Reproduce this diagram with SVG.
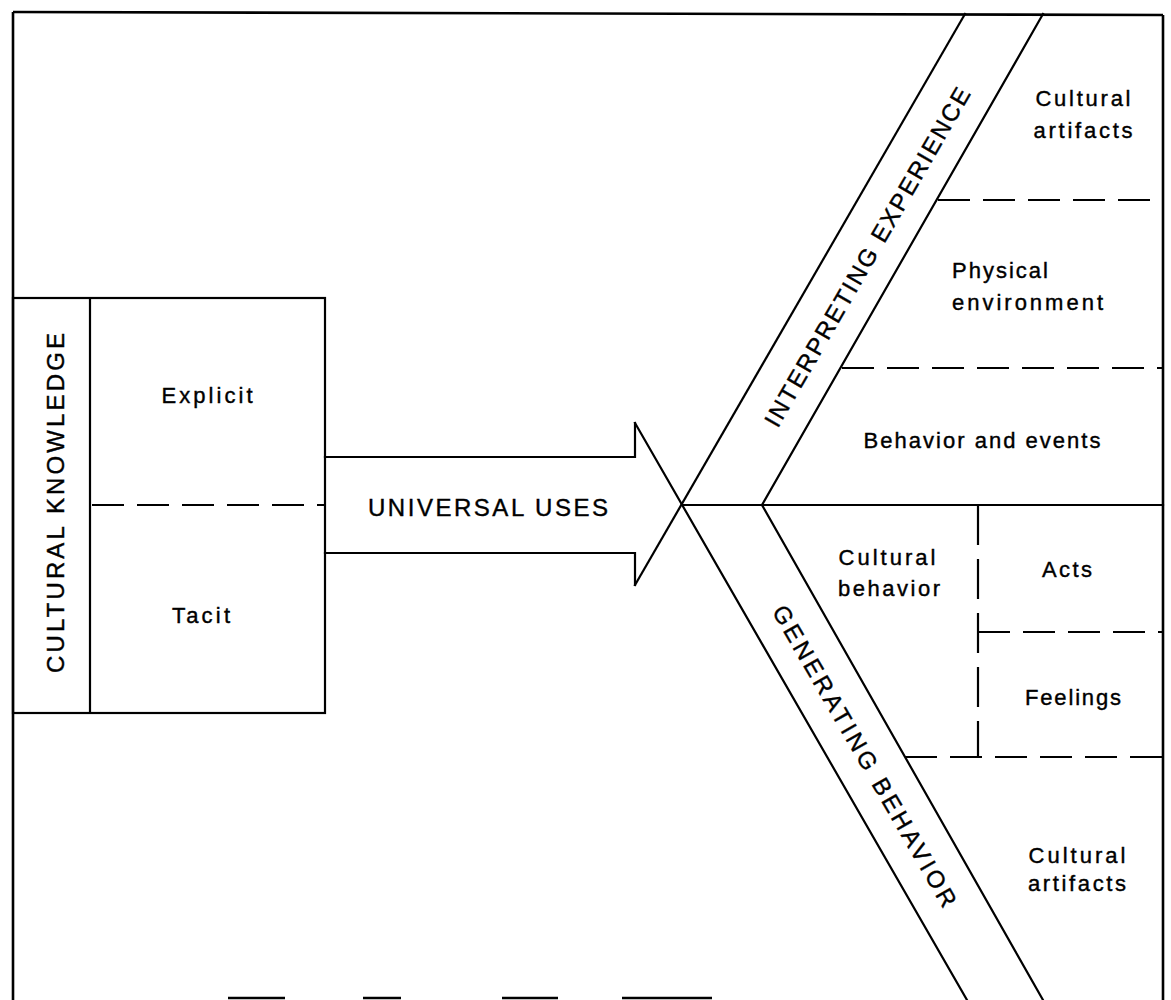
<svg xmlns="http://www.w3.org/2000/svg" width="1171" height="1000" viewBox="0 0 1171 1000">
<style>
.ln{stroke:#000;stroke-width:2.2;fill:none;stroke-linecap:square}
.fr{stroke:#000;stroke-width:2.6;fill:none}
.ds{stroke:#000;stroke-width:2.2;fill:none;stroke-dasharray:32 13}
.dv{stroke:#000;stroke-width:2.2;fill:none;stroke-dasharray:40 14}
.t{font-family:"Liberation Sans",Arial,sans-serif;font-size:22px;fill:#000;stroke:#000;stroke-width:0.4;text-anchor:middle}
.tb{font-family:"Liberation Sans",Arial,sans-serif;font-size:24px;fill:#000;stroke:#000;stroke-width:0.4;text-anchor:middle}
.ts{font-family:"Liberation Sans",Arial,sans-serif;font-size:22px;fill:#000;stroke:#000;stroke-width:0.4;text-anchor:start}
</style>
<rect x="0" y="0" width="1171" height="1000" fill="#fff"/>
<g id="frame">
<line class="fr" x1="13" y1="12" x2="1163" y2="15"/>
<line class="fr" x1="13" y1="12" x2="13" y2="1000"/>
<line class="fr" x1="1163" y1="15" x2="1163" y2="1000"/>
<line class="fr" x1="228" y1="998" x2="285" y2="998"/>
<line class="fr" x1="363" y1="998" x2="401" y2="998"/>
<line class="fr" x1="502" y1="998" x2="558" y2="998"/>
<line class="fr" x1="622" y1="998" x2="712" y2="998"/>
</g>
<g id="cultural-knowledge">
<rect class="ln" x="13" y="298" width="312" height="415"/>
<line class="ln" x1="90" y1="298" x2="90" y2="713"/>
<text class="tb" transform="translate(54,503) rotate(-90)" x="0" y="9.7" font-size="27" textLength="340" lengthAdjust="spacing">CULTURAL KNOWLEDGE</text>
</g>
<g id="explicit">
<text class="t" x="207" y="403" textLength="91" lengthAdjust="spacing">Explicit</text>
</g>
<g id="tacit">
<line class="ds" x1="92" y1="505" x2="325" y2="505"/>
<text class="t" x="201" y="623" textLength="58" lengthAdjust="spacing">Tacit</text>
</g>
<g id="connectors">
<polyline class="ln" points="325,457 635,457 635,423"/>
<polyline class="ln" points="325,553 635,553 635,585"/>
<line class="ln" x1="635" y1="423" x2="967" y2="1000"/>
<line class="ln" x1="635" y1="585" x2="965" y2="14"/>
<line class="ln" x1="682" y1="505" x2="1163" y2="505"/>
<line class="ln" x1="762" y1="505" x2="1043" y2="14"/>
<line class="ln" x1="762" y1="505" x2="1043" y2="1000"/>
</g>
<g id="universal-uses">
<text class="tb" x="488" y="515.5" textLength="240" lengthAdjust="spacing">UNIVERSAL USES</text>
</g>
<g id="interpreting-experience">
<text class="tb" transform="translate(867,257) rotate(-60)" x="0" y="8.6" textLength="387" lengthAdjust="spacing">INTERPRETING EXPERIENCE</text>
</g>
<g id="generating-behavior">
<text class="tb" transform="translate(865,756) rotate(60)" x="0" y="8.6" textLength="344" lengthAdjust="spacing">GENERATING BEHAVIOR</text>
</g>
<g id="cultural-artifacts-top">
<text class="t" x="1083" y="106" textLength="95" lengthAdjust="spacing">Cultural</text>
<text class="t" x="1083" y="138" textLength="99" lengthAdjust="spacing">artifacts</text>
</g>
<g id="physical-environment">
<line class="ds" x1="938" y1="200" x2="1163" y2="200"/>
<text class="ts" x="952" y="278" textLength="96" lengthAdjust="spacing">Physical</text>
<text class="ts" x="952" y="310" textLength="151" lengthAdjust="spacing">environment</text>
</g>
<g id="behavior-events">
<line class="ds" x1="842" y1="368" x2="1163" y2="368"/>
<text class="t" x="982" y="448" textLength="237" lengthAdjust="spacing">Behavior and events</text>
</g>
<g id="cultural-behavior">
<line class="dv" x1="978" y1="505" x2="978" y2="757"/>
<text class="t" x="887" y="565" textLength="97" lengthAdjust="spacing">Cultural</text>
<text class="t" x="889" y="596" textLength="102" lengthAdjust="spacing">behavior</text>
</g>
<g id="acts">
<text class="t" x="1067" y="577" textLength="50" lengthAdjust="spacing">Acts</text>
</g>
<g id="feelings">
<line class="ds" x1="978" y1="632" x2="1163" y2="632"/>
<text class="t" x="1073" y="705" textLength="96" lengthAdjust="spacing">Feelings</text>
</g>
<g id="cultural-artifacts-bottom">
<line class="ds" x1="905" y1="757" x2="1163" y2="757"/>
<text class="t" x="1077" y="863" textLength="97" lengthAdjust="spacing">Cultural</text>
<text class="t" x="1077" y="891" textLength="98" lengthAdjust="spacing">artifacts</text>
</g>
</svg>
